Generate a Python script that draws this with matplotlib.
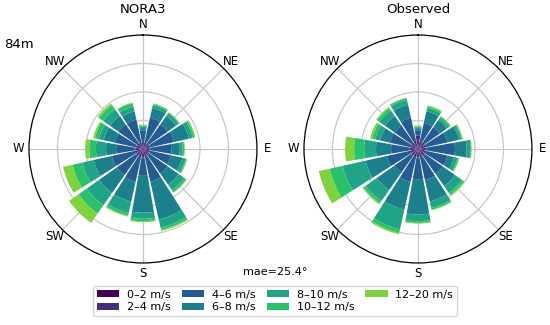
import numpy as np
import matplotlib
matplotlib.use("Agg")
import matplotlib.pyplot as plt

# 16 compass sectors, clockwise from N
directions = ["N", "NNE", "NE", "ENE", "E", "ESE", "SE", "SSE",
              "S", "SSW", "SW", "WSW", "W", "WNW", "NW", "NNW"]
speed_labels = ["0–2 m/s", "2–4 m/s", "4–6 m/s", "6–8 m/s",
                "8–10 m/s", "10–12 m/s", "12–20 m/s"]
compass_labels = ["N", "NE", "E", "SE", "S", "SW", "W", "NW"]

# frequency (%) per speed bin (rows) and sector (columns)
nora3_freq = [
    [0.18, 0.18, 0.18, 0.18, 0.18, 0.18, 0.18, 0.18, 0.18, 0.18, 0.18, 0.18, 0.18, 0.18, 0.18, 0.18],
    [0.53, 0.60, 0.60, 0.60, 0.53, 0.60, 0.60, 0.71, 0.71, 0.71, 0.71, 0.71, 0.60, 0.60, 0.60, 0.60],
    [1.24, 2.58, 2.40, 2.58, 2.29, 2.22, 2.40, 2.65, 1.94, 2.65, 2.47, 2.47, 2.05, 2.22, 2.40, 2.40],
    [0.25, 1.06, 1.06, 1.59, 0.88, 1.24, 1.41, 4.06, 3.88, 2.12, 2.29, 1.94, 1.06, 1.24, 1.06, 0.88],
    [0.14, 0.32, 0.35, 0.42, 0.28, 0.35, 0.71, 0.88, 0.64, 1.24, 1.59, 1.24, 1.06, 0.53, 0.88, 0.53],
    [0.11, 0.11, 0.11, 0.18, 0.18, 0.11, 0.25, 0.25, 0.25, 0.28, 1.06, 1.06, 0.71, 0.42, 0.53, 0.35],
    [0.11, 0.07, 0.04, 0.11, 0.07, 0.07, 0.07, 0.11, 0.11, 0.11, 1.20, 1.02, 0.42, 0.18, 0.21, 0.07],
]
observed_freq = [
    [0.28, 0.18, 0.18, 0.18, 0.18, 0.18, 0.18, 0.18, 0.18, 0.18, 0.18, 0.18, 0.18, 0.18, 0.18, 0.18],
    [1.13, 0.71, 0.71, 0.71, 0.71, 0.71, 0.71, 0.71, 0.71, 0.71, 0.71, 0.71, 0.71, 0.71, 0.71, 0.71],
    [0.53, 1.94, 1.94, 2.29, 3.00, 2.29, 2.29, 2.47, 2.29, 2.65, 2.12, 2.47, 1.94, 2.12, 2.12, 2.47],
    [0.25, 1.24, 0.88, 1.24, 1.24, 0.71, 1.59, 2.29, 3.71, 3.00, 2.29, 2.29, 1.59, 1.06, 1.24, 1.41],
    [0.11, 0.35, 0.28, 0.25, 0.42, 0.35, 0.88, 0.71, 0.71, 2.12, 1.41, 2.47, 1.24, 0.53, 0.71, 0.53],
    [0.07, 0.18, 0.18, 0.11, 0.07, 0.14, 0.25, 0.18, 0.18, 0.35, 0.28, 1.41, 1.06, 0.35, 0.28, 0.18],
    [0.11, 0.11, 0.07, 0.07, 0.04, 0.07, 0.11, 0.07, 0.07, 0.18, 0.14, 1.16, 0.95, 0.21, 0.14, 0.07],
]

# viridis-like bin colours, as they appear in the picture
colors = ["#440154", "#472f7d", "#245c92", "#1c7f8c", "#20a386", "#2bc16c", "#7cd33c"]


def draw_rose(ax, freq):
    theta = np.deg2rad(np.arange(len(directions)) * 360.0 / len(directions))
    width = 2 * np.pi / len(directions) * 0.88
    bottom = np.zeros(len(directions))
    bars = []
    for vals, col, lab in zip(freq, colors, speed_labels):
        vals = np.asarray(vals)
        b = ax.bar(theta, vals, width=width, bottom=bottom, color=col,
                   edgecolor="none", label=lab, zorder=3)
        bars.append(b)
        bottom += vals
    ax.set_theta_zero_location("N")
    ax.set_theta_direction(-1)
    ax.set_ylim(0, 12)
    ax.set_yticks([3, 6, 9])
    ax.set_yticklabels([])
    ax.set_xticks(np.deg2rad(np.arange(0, 360, 45)))
    ax.set_xticklabels(compass_labels, fontsize=8.5)
    ax.tick_params(axis="x", pad=-3)
    ax.grid(True, color="#c8c8c8", linewidth=0.9)
    ax.spines["polar"].set_linewidth(0.9)
    return bars


fig = plt.figure(figsize=(5.5, 3.25), dpi=100)
ax1 = fig.add_axes([0.0527, 0.1908, 0.4145, 0.7015], projection="polar")
ax2 = fig.add_axes([0.5527, 0.1908, 0.4145, 0.7015], projection="polar")

bars = draw_rose(ax1, nora3_freq)
draw_rose(ax2, observed_freq)

fig.text(0.26, 0.970, "NORA3", fontsize=9.5, ha="center", va="center")
fig.text(0.76, 0.970, "Observed", fontsize=9.5, ha="center", va="center")
fig.text(0.007, 0.862, "84m", fontsize=9.5, va="center", ha="left")
fig.text(0.5, 0.163, "mae=25.4°", fontsize=8, ha="center", va="center")

fig.legend(handles=bars, labels=speed_labels, ncol=4, fontsize=8,
           loc="center", bbox_to_anchor=(0.5, 0.074), frameon=True,
           handlelength=2.0, handleheight=0.6, columnspacing=1.0,
           handletextpad=0.7, borderpad=0.35, labelspacing=0.25, fancybox=True)

fig.savefig("out.png", dpi=100)
